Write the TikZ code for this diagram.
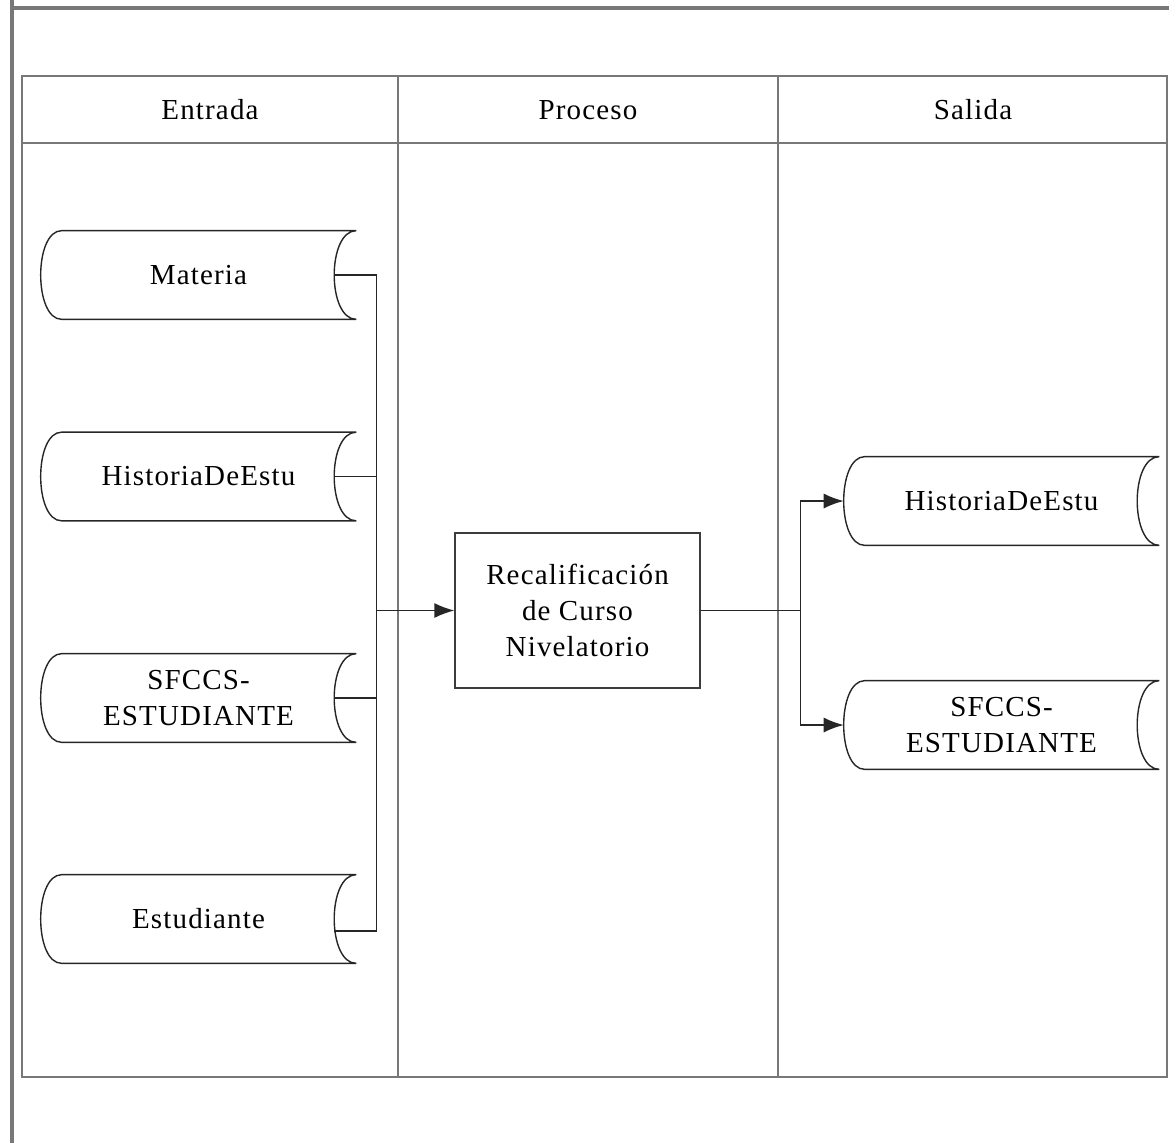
\documentclass[tikz,border=0pt]{standalone}
\usepackage{fontspec}
\usepackage{tikz}
\usetikzlibrary{arrows.meta, positioning, calc}
\newfontfamily\diafont{Liberation Serif}[LetterSpace=4]
\definecolor{lineagris}{RGB}{60, 60, 60}
\definecolor{marcogris}{RGB}{120, 120, 120}
\tikzset{
  >=Latex,
  textodia/.style={font=\diafont\fontsize{16.5}{20.5}\selectfont, text=black, align=center},
  datos/.style={textodia, minimum width=6.3cm, minimum height=1.76cm, inner sep=0pt},
  procbox/.style={textodia, draw=lineagris, line width=0.8pt, minimum width=4.9cm, minimum height=3.1cm},
  borde/.style={draw=black!85, line width=0.8pt},
  linea/.style={black!85, line width=0.8pt},
  flecha/.style={-{Latex[length=4mm, width=3mm]}, black!85, line width=0.8pt},
  marco/.style={draw=marcogris, line width=0.6pt},
  marcoext/.style={draw=marcogris, line width=2.2pt}
}
% archivo de datos: nombre, centro, texto
\newcommand{\archivo}[3]{%
  \node[datos] (#1) at #2 {#3};
  \draw[borde] ([xshift=4.2mm]#1.north west) -- (#1.north east)
    .. controls ([xshift=-5.9mm]#1.north east) and ([xshift=-5.9mm]#1.south east) .. (#1.south east)
    -- ([xshift=4.2mm]#1.south west)
    .. controls ([xshift=-1.4mm]#1.south west) and ([xshift=-1.4mm]#1.north west) .. cycle;
  \coordinate (#1-in) at ([xshift=-4.4mm]#1.east);
}

\begin{document}
\begin{tikzpicture}[x=0.02cm, y=-0.02cm]
    \useasboundingbox (0,0) rectangle (1169,1143);

    % --- MARCO EXTERIOR ---
    \draw[marcoext] (12,0) -- (12,1143);
    \draw[marcoext] (12,8) -- (1169,8);

    % --- TABLA ---
    \draw[marco] (22,76) rectangle (1167,1077);
    \draw[marco] (22,143) -- (1167,143);
    \draw[marco] (398,76) -- (398,1077);
    \draw[marco] (778,76) -- (778,1077);
    \draw[draw=marcogris, line width=1.1pt] (22,1077) -- (1167,1077);

    \node[textodia] (colEntrada) at (210,110) {Entrada};
    \node[textodia] (colProceso) at (588,110) {Proceso};
    \node[textodia] (colSalida) at (973,110) {Salida};

    % --- ENTRADAS ---
    \archivo{materia}{(198.5,275)}{Materia}
    \archivo{histE}{(198.5,476.5)}{HistoriaDeEstu}
    \archivo{sfccsE}{(198.5,698)}{SFCCS-\\ESTUDIANTE}
    \archivo{estudiante}{(198.5,919)}{Estudiante}

    % --- PROCESO ---
    \node[procbox] (proc) at (577.5,610.5) {Recalificación\\de Curso\\Nivelatorio};
    \coordinate (busE) at ([xshift=-1.56cm]proc.west);
    \coordinate (busS) at ([xshift=2cm]proc.east);

    \draw[linea] (materia-in) -| (busE);
    \draw[linea] (histE-in) -| (busE);
    \draw[linea] (sfccsE-in) -| (busE);
    \draw[linea] ([yshift=-2.4mm]estudiante-in) -| (busE);
    \draw[flecha] (busE) -- (proc.west);

    % --- SALIDAS ---
    \archivo{histS}{(1001.5,501)}{HistoriaDeEstu}
    \archivo{sfccsS}{(1001.5,725)}{SFCCS-\\ESTUDIANTE}

    \draw[linea] (proc.east) -- (busS);
    \draw[flecha] (busS) |- (histS.west);
    \draw[flecha] (busS) |- (sfccsS.west);
\end{tikzpicture}
\end{document}
